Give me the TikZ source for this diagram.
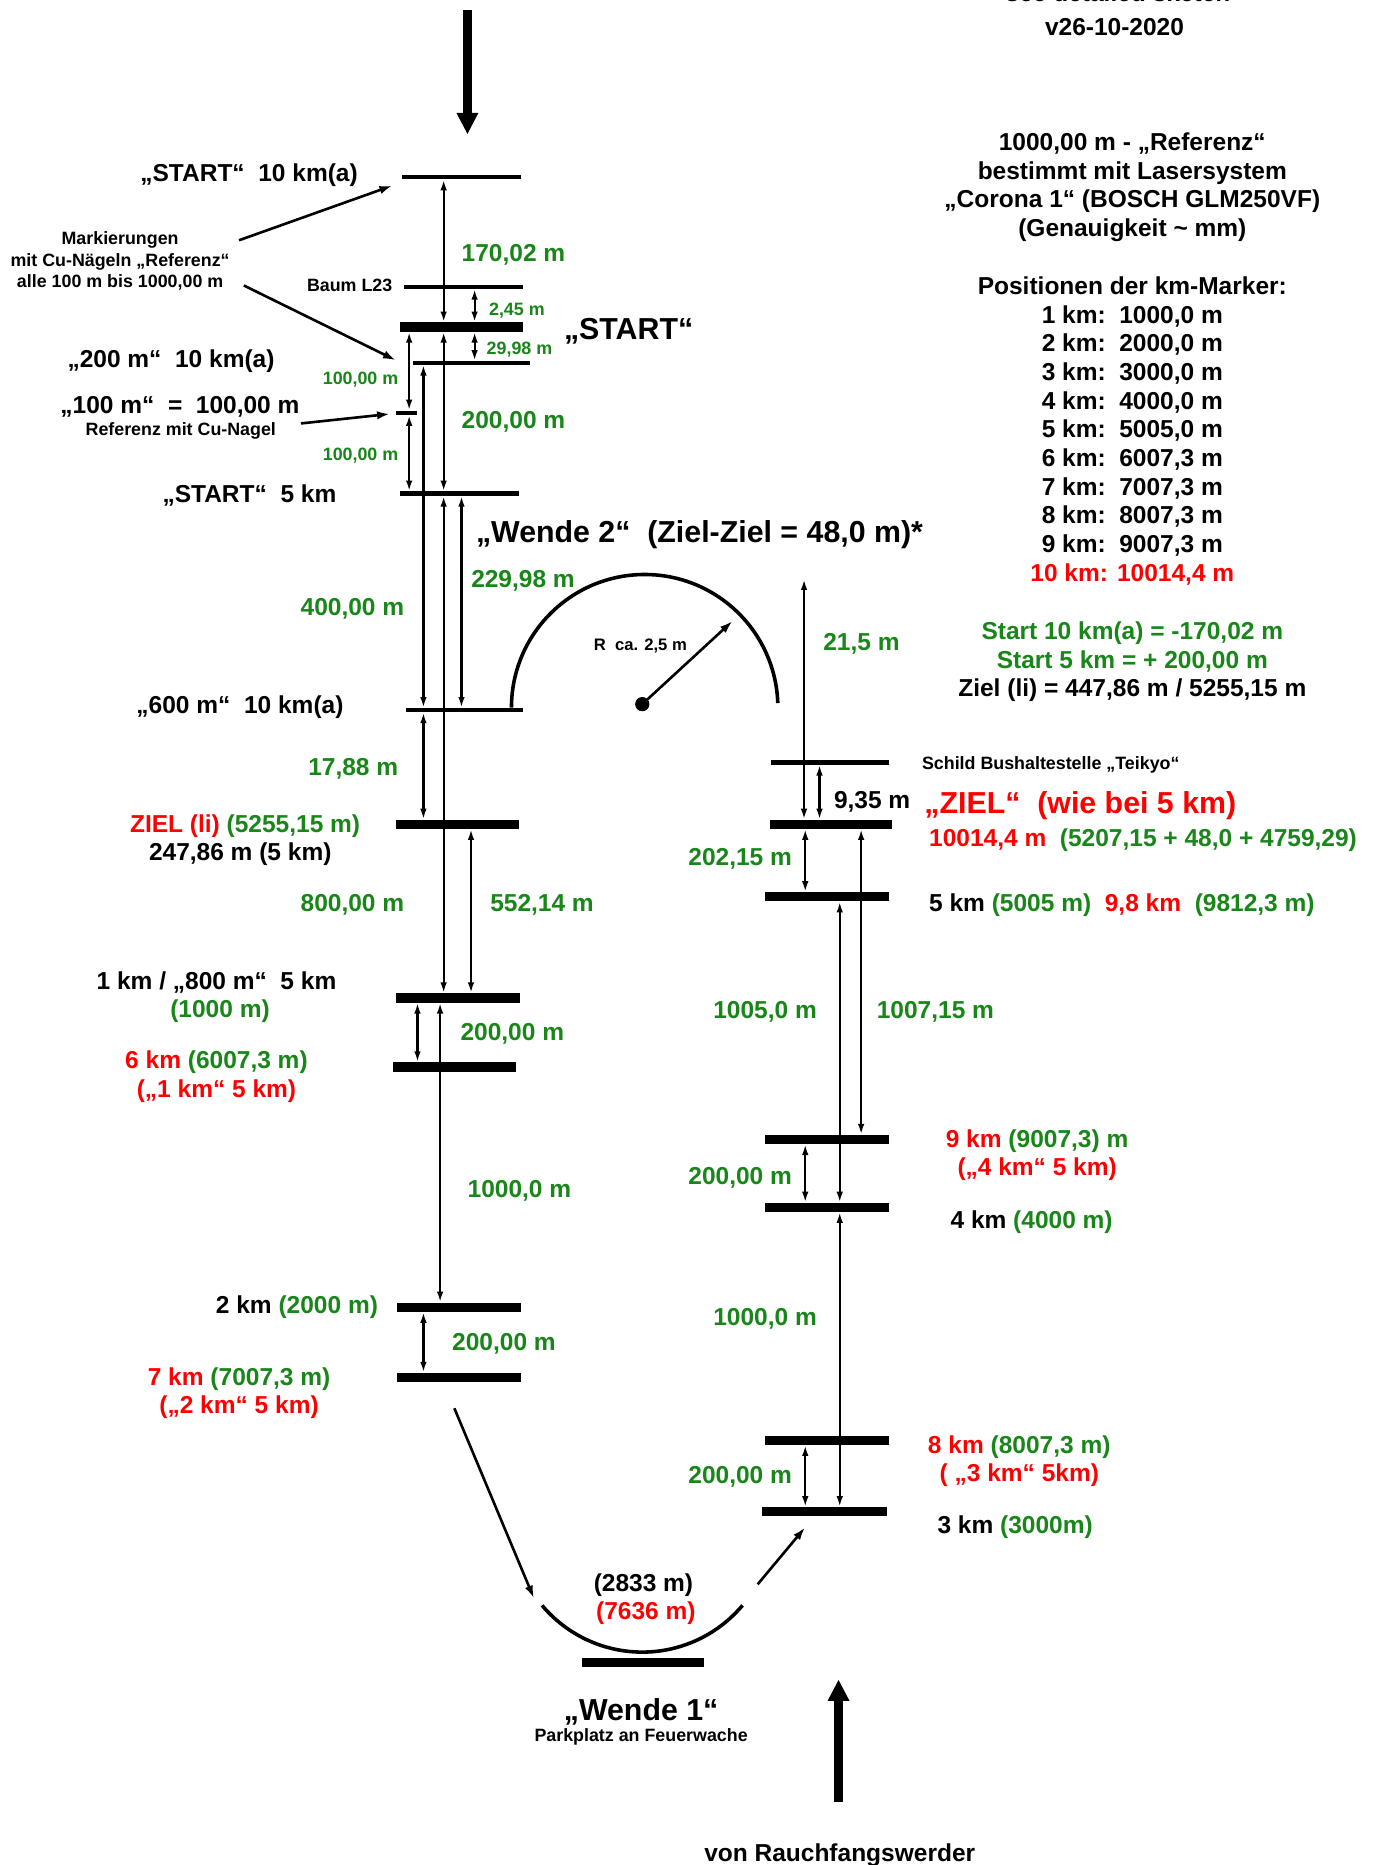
\documentclass[tikz,border=0pt]{standalone}
\usepackage{fontspec}
\setmainfont{Liberation Sans}
\usepackage{xcolor}
\usetikzlibrary{arrows.meta,positioning}
\definecolor{distgreen}{RGB}{24,134,24}
\definecolor{markred}{RGB}{255,0,0}
\tikzset{
  thinbar/.style={fill=black, inner sep=0pt, minimum height=3.6pt, minimum width=100pt},
  thickbar/.style={thinbar, minimum height=7.8pt},
  dimline/.style={line width=1.8pt, {Latex[length=9pt,width=5.5pt]}-{Latex[length=9pt,width=5.5pt]}},
  leader/.style={line width=2.2pt, -{Latex[length=11pt,width=7pt]}},
  bigarrow/.style={line width=7pt, -{Triangle[length=18pt,width=17pt]}},
  arcline/.style={line width=3pt},
  txt/.style={font=\fontsize{20.6}{24}\selectfont\bfseries, inner sep=0pt, yshift=-5pt},
  smalltxt/.style={font=\fontsize{15}{18}\selectfont\bfseries, inner sep=0pt, yshift=-3.5pt},
  bigtxt/.style={font=\fontsize{25.5}{30}\selectfont\bfseries, inner sep=0pt, yshift=-6.5pt},
  dist/.style={txt, text=distgreen},
  smalldist/.style={smalltxt, text=distgreen},
}
\newcommand{\red}[1]{{\color{markred}#1}}
\newcommand{\grn}[1]{{\color{distgreen}#1}}

\begin{document}
\begin{tikzpicture}[x=1pt,y=-1pt,line cap=butt]
  \useasboundingbox (0,0) rectangle (1161,1568);
  \fill[white] (0,0) rectangle (1161,1568);

  % ---- Kopf ----
  \node[txt] (head1) at (940,-11) {see detailed sketch};
  \node[txt] (head2) at (937,18) {v26-10-2020};
  \coordinate (intop) at (393,8);
  \coordinate (intip) at (393,113);
  \draw[bigarrow] (intop) -- (intip);

  % ---- Referenz / km-Marker ----
  \node[txt, anchor=mid] (ref) at (952,119) {1000,00 m - „Referenz“};
  \node[txt, anchor=mid] (ref2) at (952,143) {bestimmt mit Lasersystem};
  \node[txt, anchor=mid] (ref3) at (952,167) {„Corona 1“ (BOSCH GLM250VF)};
  \node[txt, anchor=mid] (ref4) at (952,191) {(Genauigkeit \textasciitilde{} mm)};
  \node[txt, anchor=mid] (pos) at (952,240) {Positionen der km-Marker:};
  \foreach \k/\m [count=\i] in {1/{1000,0},2/{2000,0},3/{3000,0},4/{4000,0},5/{5005,0},
                                6/{6007,3},7/{7007,3},8/{8007,3},9/{9007,3}}{
    \node[txt, anchor=mid] (pos\k) at (952,240+24.1*\i) {\k\ km:\ \ \m\ m};
  }
  \node[txt, anchor=mid, text=markred] (pos10) at (952,481) {10 km: 10014,4 m};
  \node[txt, anchor=mid, text=distgreen] (sum1) at (952,530) {Start 10 km(a) = -170,02 m};
  \node[txt, anchor=mid, text=distgreen] (sum2) at (952,554) {Start 5 km = + 200,00 m};
  \node[txt, anchor=mid] (sum3) at (952,578) {Ziel (li) = 447,86 m / 5255,15 m};

  % ---- Marker links ----
  \node[thinbar] (s10) at (388,149) {};
  \node[thinbar] (baum) at (390,241) {};
  \node[thickbar, minimum width=104pt] (start) at (388,275) {};
  \node[thinbar, minimum width=99pt, minimum height=3pt] (m200) at (396.5,305) {};
  \node[thinbar, minimum width=18pt] (m100) at (342,347) {};
  \node[thinbar] (s5) at (386,415) {};
  \node[thinbar, minimum width=99pt] (m600) at (390.5,597) {};
  \node[thickbar, minimum width=103pt] (zielL) at (384.5,693) {};
  \node[thickbar, minimum width=104pt] (km1) at (385,839) {};
  \node[thickbar, minimum width=104pt] (km6) at (382,897) {};
  \node[thickbar, minimum width=104pt] (km2) at (386,1099) {};
  \node[thickbar, minimum width=104pt] (km7) at (386,1158) {};

  % Spalten der Massketten
  \coordinate (cA) at (373,0);  \coordinate (cB) at (399,0);
  \coordinate (cC) at (344,0);  \coordinate (cD) at (356,0);
  \coordinate (cE) at (388,0);  \coordinate (cF) at (396,0);
  \coordinate (cG) at (351,0);  \coordinate (cH) at (370,0);
  \draw[dimline] (s10.south -| cA) -- (start.north -| cA);
  \draw[dimline] (baum.south -| cB) -- (start.north -| cB);
  \draw[dimline] (start.south -| cB) -- (m200.north -| cB);
  \draw[dimline] (start.south -| cC) -- (m100.north -| cC);
  \draw[dimline] (m100.south -| cC) -- (s5.north -| cC);
  \draw[dimline] (start.south -| cA) -- (s5.north -| cA);
  \draw[dimline] (m200.south -| cD) -- (m600.north -| cD);
  \draw[dimline] (s5.south -| cA) -- (km1.north -| cA);
  \draw[dimline] (s5.south -| cE) -- (m600.north -| cE);
  \draw[dimline] (m600.south -| cD) -- (zielL.north -| cD);
  \draw[dimline] (zielL.south -| cF) -- (km1.north -| cF);
  \draw[dimline] (km1.south -| cG) -- (km6.north -| cG);
  \draw[dimline] (km1.south -| cH) -- (km2.north -| cH);
  \draw[dimline] (km2.south -| cD) -- (km7.north -| cD);

  % Masszahlen links
  \node[dist, anchor=mid west] (d1) at (388,212) {170,02 m};
  \node[smalldist, anchor=mid west] (d2) at (411,259) {2,45 m};
  \node[smalldist, anchor=mid west] (d3) at (409,292) {29,98 m};
  \node[smalldist, anchor=mid east] (d4) at (335,317) {100,00 m};
  \node[smalldist, anchor=mid east] (d5) at (335,381) {100,00 m};
  \node[dist, anchor=mid west] (d6) at (388,353) {200,00 m};
  \node[dist, anchor=mid east] (d7) at (340,510) {400,00 m};
  \node[dist, anchor=mid west] (d8) at (396,486) {229,98 m};
  \node[dist, anchor=mid east] (d9) at (335,644) {17,88 m};
  \node[dist, anchor=mid east] (d10) at (340,759) {800,00 m};
  \node[dist, anchor=mid west] (d11) at (412,759) {552,14 m};
  \node[dist, anchor=mid west] (d12) at (387,867) {200,00 m};
  \node[dist, anchor=mid west] (d13) at (393,999) {1000,0 m};
  \node[dist, anchor=mid west] (d14) at (380,1128) {200,00 m};

  % Beschriftung links
  \node[txt, anchor=mid east] (ls10) at (301,145) {„START“\ \ 10 km(a)};
  \node[smalltxt, align=center, yshift=2pt] (mark) at (101,218) {Markierungen\\mit Cu-Nägeln „Referenz“\\alle 100 m bis 1000,00 m};
  \coordinate (mk1) at (201,202);  \coordinate (mk1e) at (330,156);
  \coordinate (mk2) at (205,240);  \coordinate (mk2e) at (333,303);
  \draw[leader] (mk1) -- (mk1e);
  \draw[leader] (mk2) -- (mk2e);
  \node[smalltxt, anchor=mid east] (lbaum) at (330,239) {Baum L23};
  \node[bigtxt, anchor=mid west] (lstart) at (474,276) {„START“};
  \node[txt, anchor=mid east] (l200) at (231,301) {„200 m“\ \ 10 km(a)};
  \node[txt, anchor=mid east] (l100) at (252,340) {„100 m“\ \ =\ \ 100,00 m};
  \node[smalltxt, anchor=mid] (lnagel) at (152,360) {Referenz mit Cu-Nagel};
  \coordinate (ng) at (253,356);  \coordinate (nge) at (328,348);
  \draw[leader] (ng) -- (nge);
  \node[txt, anchor=mid east] (ls5) at (283,415) {„START“\ \ 5 km};
  \node[txt, anchor=mid east] (l600) at (289,592) {„600 m“\ \ 10 km(a)};
  \node[txt, anchor=mid east] (lziel) at (303,692) {\red{ZIEL (li)} \grn{(5255,15 m)}};
  \node[txt, anchor=mid] (lziel2) at (202,716) {247,86 m (5 km)};
  \node[txt, anchor=mid east] (lkm1) at (283,824) {1 km / „800 m“\ \ 5 km};
  \node[txt, anchor=mid, text=distgreen] (lkm1b) at (185,848) {(1000 m)};
  \node[txt, anchor=mid] (lkm6) at (182,891) {\red{6 km} \grn{(6007,3 m)}};
  \node[txt, anchor=mid, text=markred] (lkm6b) at (182,915) {(„1 km“ 5 km)};
  \node[txt, anchor=mid east] (lkm2) at (318,1097) {2 km \grn{(2000 m)}};
  \node[txt, anchor=mid] (lkm7) at (201,1157) {\red{7 km} \grn{(7007,3 m)}};
  \node[txt, anchor=mid, text=markred] (lkm7b) at (201,1181) {(„2 km“ 5 km)};

  % ---- Wende 2 ----
  \node[bigtxt, anchor=mid west] (w2) at (400,447) {„Wende 2“\ \ (Ziel-Ziel = 48,0 m)*};
  \draw[arcline] (430,595) arc[start angle=180, end angle=358, radius=112];
  \node[circle, fill=black, inner sep=0pt, minimum size=12pt] (rdot) at (540,592) {};
  \coordinate (rtip) at (616,522);
  \draw[leader] (rdot.center) -- (rtip);
  \node[smalltxt, anchor=mid west, font=\fontsize{14}{17}\selectfont\bfseries] (rlab) at (499,541) {R\ \ ca. 2,5 m};

  % ---- Marker rechts ----
  \node[thinbar, minimum width=99pt] (schild) at (697.5,641) {};
  \node[thickbar, minimum width=103pt] (zielR) at (698.5,693) {};
  \node[thickbar, minimum width=104pt] (km5) at (695,754) {};
  \node[thickbar, minimum width=104pt] (km9) at (695,958) {};
  \node[thickbar, minimum width=104pt] (km4) at (695,1015) {};
  \node[thickbar, minimum width=104pt] (km8) at (695,1211) {};
  \node[thickbar, minimum width=105pt] (km3) at (693.5,1271) {};

  \coordinate (rA) at (676,0);  \coordinate (rB) at (689,0);
  \coordinate (rC) at (677,0);  \coordinate (rD) at (724,0);
  \coordinate (rE) at (706,0);
  \coordinate (wtop) at (676,487);
  \draw[dimline] (wtop) -- (zielR.north -| rA);
  \draw[dimline] (schild.south -| rB) -- (zielR.north -| rB);
  \draw[dimline] (zielR.south -| rC) -- (km5.north -| rC);
  \draw[dimline] (zielR.south -| rD) -- (km9.north -| rD);
  \draw[dimline] (km5.south -| rE) -- (km4.north -| rE);
  \draw[dimline] (km9.south -| rC) -- (km4.north -| rC);
  \draw[dimline] (km4.south -| rE) -- (km3.north -| rE);
  \draw[dimline] (km8.south -| rC) -- (km3.north -| rC);

  % Masszahlen rechts
  \node[dist, anchor=mid west] (e1) at (692,539) {21,5 m};
  \node[txt, anchor=mid west] (e2) at (701,672) {9,35 m};
  \node[dist, anchor=mid east] (e3) at (666,720) {202,15 m};
  \node[dist, anchor=mid east] (e4) at (687,849) {1005,0 m};
  \node[dist, anchor=mid west] (e5) at (737,849) {1007,15 m};
  \node[dist, anchor=mid east] (e6) at (666,988) {200,00 m};
  \node[dist, anchor=mid east] (e7) at (687,1107) {1000,0 m};
  \node[dist, anchor=mid east] (e8) at (666,1240) {200,00 m};

  % Beschriftung rechts
  \node[smalltxt, anchor=mid west] (rschild) at (775,641) {Schild Bushaltestelle „Teikyo“};
  \node[bigtxt, anchor=mid west, text=markred] (rziel) at (777,675) {„ZIEL“\ \ (wie bei 5 km)};
  \node[txt, anchor=mid west] (rziel2) at (781,704) {\red{10014,4 m}\ \ \grn{(5207,15 + 48,0 + 4759,29)}};
  \node[txt, anchor=mid west] (rkm5) at (781,759) {5 km \grn{(5005 m)}\ \ \red{9,8 km}\ \ \grn{(9812,3 m)}};
  \node[txt, anchor=mid west] (rkm9) at (795,957) {\red{9 km} \grn{(9007,3) m}};
  \node[txt, anchor=mid, text=markred] (rkm9b) at (872,981) {(„4 km“ 5 km)};
  \node[txt, anchor=mid west] (rkm4) at (799,1025) {4 km \grn{(4000 m)}};
  \node[txt, anchor=mid west] (rkm8) at (780,1214) {\red{8 km} \grn{(8007,3 m)}};
  \node[txt, anchor=mid, text=markred] (rkm8b) at (857,1238) {( „3 km“ 5km)};
  \node[txt, anchor=mid west] (rkm3) at (788,1282) {3 km \grn{(3000m)}};

  % ---- Wende 1 ----
  \coordinate (dn) at (382,1184);  \coordinate (dne) at (449,1344);
  \draw[leader] (dn) -- (dne);
  \draw[arcline] (540,1279) ++(140:110) arc[start angle=140, end angle=40, radius=110];
  \coordinate (up) at (637,1332);  \coordinate (upe) at (677,1284);
  \draw[leader] (up) -- (upe);
  \node[txt, anchor=mid] (w1a) at (541,1330) {(2833 m)};
  \node[txt, anchor=mid, text=markred] (w1b) at (543,1354) {(7636 m)};
  \node[thickbar, minimum width=103pt] (w1) at (540.5,1398) {};
  \node[bigtxt, anchor=mid] (w1lab) at (539,1437) {„Wende 1“};
  \node[smalltxt, anchor=mid] (w1sub) at (539,1458) {Parkplatz an Feuerwache};

  % ---- Zufahrt ----
  \coordinate (frombot) at (705,1515);  \coordinate (fromtip) at (705,1412);
  \draw[bigarrow] (frombot) -- (fromtip);
  \node[txt, anchor=mid] (von) at (706,1557) {von Rauchfangswerder};
\end{tikzpicture}
\end{document}
